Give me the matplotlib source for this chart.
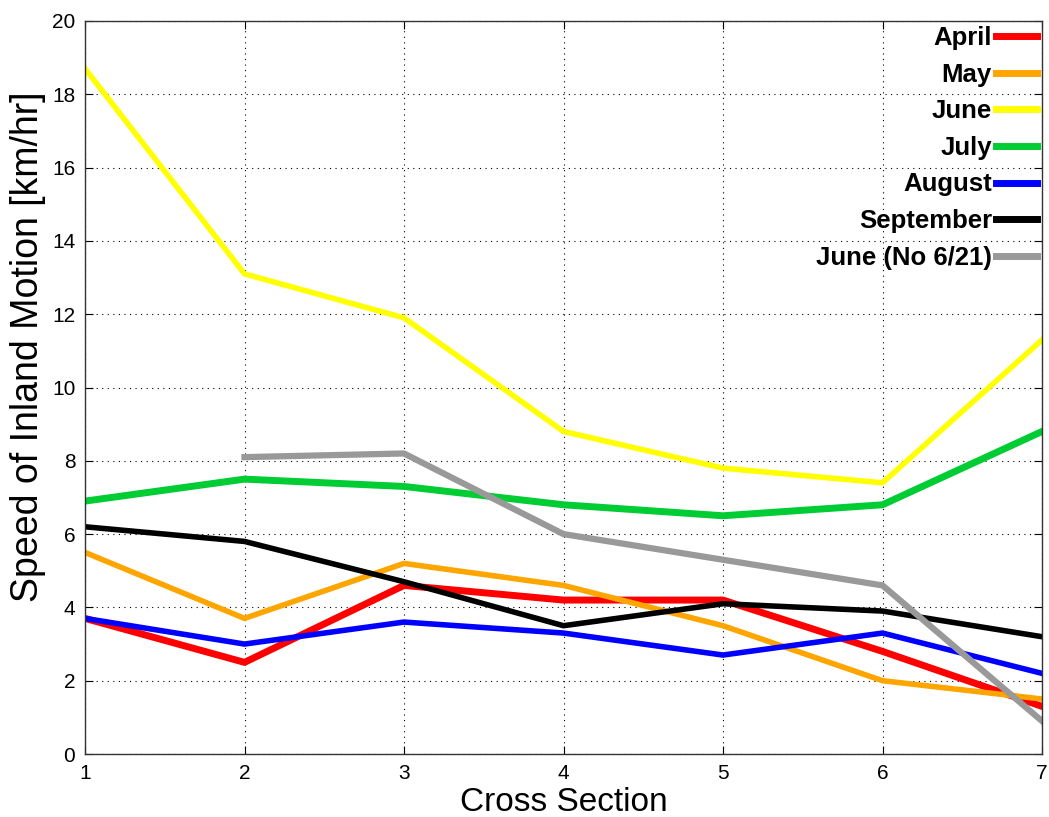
import numpy as np
import matplotlib
matplotlib.use("Agg")
import matplotlib.pyplot as plt

# cross sections along the coast
sections = [1, 2, 3, 4, 5, 6, 7]

april = [3.7, 2.5, 4.6, 4.2, 4.2, 2.8, 1.3]
may = [5.5, 3.7, 5.2, 4.6, 3.5, 2.0, 1.5]
june = [18.7, 13.1, 11.9, 8.8, 7.8, 7.4, 11.3]
july = [6.9, 7.5, 7.3, 6.8, 6.5, 6.8, 8.8]
august = [3.7, 3.0, 3.6, 3.3, 2.7, 3.3, 2.2]
september = [6.2, 5.8, 4.7, 3.5, 4.1, 3.9, 3.2]
june_no621 = [np.nan, 8.1, 8.2, 6.0, 5.3, 4.6, 0.9]

plt.rcParams["font.family"] = ["Liberation Sans", "DejaVu Sans"]

fig = plt.figure(figsize=(10.49, 8.17), dpi=100)
ax = fig.add_axes([85 / 1049, 1 - 754 / 817, (1042 - 85) / 1049, (754 - 21) / 817])

ax.plot(sections, april, color="#FF0000", lw=5.0, label="April")
ax.plot(sections, may, color="#FFA500", lw=4.0, label="May")
ax.plot(sections, june, color="#FFFF00", lw=4.0, label="June")
ax.plot(sections, july, color="#00CC33", lw=5.0, label="July")
ax.plot(sections, august, color="#0000FF", lw=4.0, label="August")
ax.plot(sections, september, color="#000000", lw=4.0, label="September")
ax.plot(sections, june_no621, color="#999999", lw=4.5, label="June (No 6/21)")

ax.set_xlim(1, 7)
ax.set_ylim(0, 20)
ax.set_xticks(sections)
ax.set_yticks(range(0, 21, 2))
ax.grid(True, color="black", linestyle=(0, (1, 4)), linewidth=0.8)
ax.tick_params(direction="in", top=True, right=True, labelsize=15, length=6, pad=7)
for s in ax.spines.values():
    s.set_linewidth(1.0)
    s.set_color("#333333")

ax.set_xlabel("Cross Section", fontsize=24, labelpad=3)
ax.set_ylabel("Speed of Inland Motion [km/hr]", fontsize=27, labelpad=4)
ax.yaxis.label.set_y(0.555)

leg = ax.legend(loc="upper right", frameon=False, markerfirst=False,
                handlelength=1.6, handletextpad=0.15, labelspacing=0.49,
                borderpad=0.1, borderaxespad=0.1,
                prop={"weight": "bold", "size": 18.5})
for line in leg.get_lines():
    line.set_linewidth(5)

fig.savefig("out.png", dpi=100)
